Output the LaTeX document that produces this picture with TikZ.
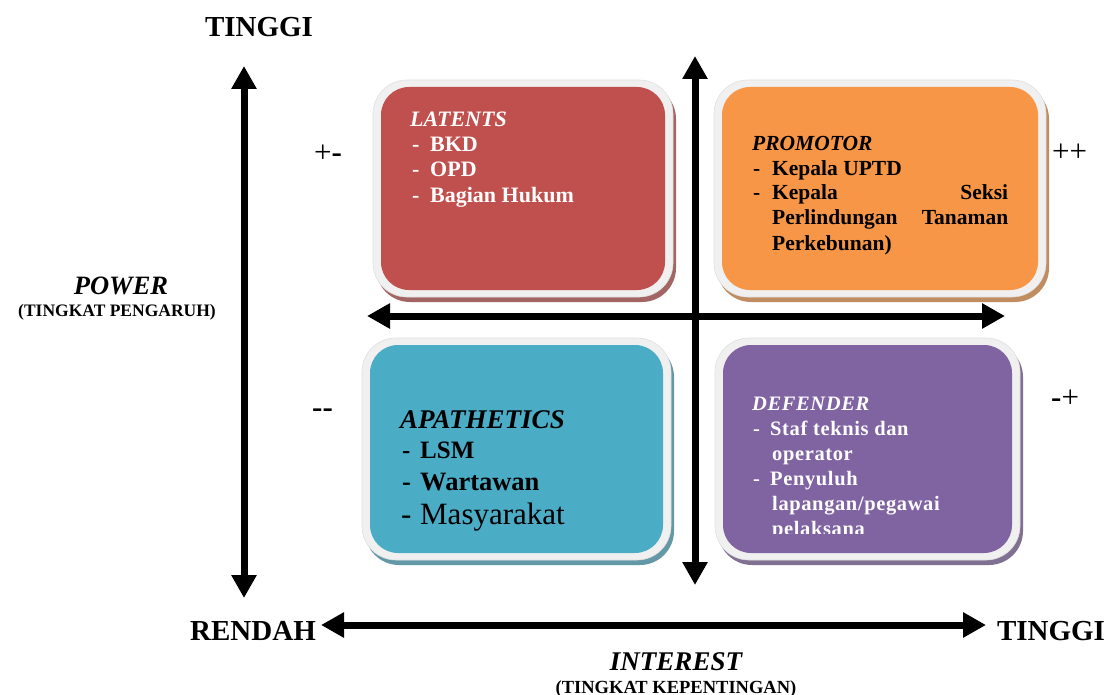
\documentclass[tikz,border=0pt]{standalone}
\usepackage{fontspec}
\setmainfont{Liberation Serif}
\usetikzlibrary{arrows.meta}

\definecolor{latentred}{HTML}{C0504D}
\definecolor{promoorange}{HTML}{F79646}
\definecolor{apathblue}{HTML}{4BACC6}
\definecolor{defpurple}{HTML}{8064A2}
\definecolor{framegray}{HTML}{F0F0F0}

\newcommand\fs[1]{\fontsize{#1}{#1}\selectfont}

\tikzset{
  axis/.style={line width=7pt,
    {Triangle[width=24pt,length=23pt]}-{Triangle[width=24pt,length=23pt]}},
  title/.style={inner sep=0pt, anchor=base, font=\fs{29}\bfseries},
  sub/.style={inner sep=0pt, anchor=base, font=\fs{18.5}\bfseries},
  txt/.style={inner sep=0pt, anchor=base west},
  sign/.style={inner sep=0pt, anchor=base west, font=\fs{31}},
}

% #1 name, #2..#5 inner box x1,y1,x2,y2, #6 fill colour
\newcommand\quadrant[6]{%
  \fill[#6!55!gray, rounded corners=34pt]
    ({#2-8+3},{#3-7+5}) rectangle ({#4+8+3},{#5+7+5});
  \fill[framegray, draw=gray!25, line width=0.6pt, rounded corners=34pt]
    ({#2-8},{#3-7}) rectangle ({#4+8},{#5+7});
  \node[fill=#6, rounded corners=28pt, inner sep=0pt,
        minimum width=#4pt-#2pt, minimum height=#5pt-#3pt]
    (#1) at ({(#2+#4)/2},{(#3+#5)/2}) {};
}

\begin{document}
\begin{tikzpicture}[x=1pt,y=-1pt]
\useasboundingbox (0,0) rectangle (1113,695);

% quadrant boxes
\quadrant{latents}{381}{87}{665}{290}{latentred}
\quadrant{promotor}{722}{87}{1038}{290}{promoorange}
\quadrant{apathetics}{370}{345}{663}{553}{apathblue}
\quadrant{defender}{723}{345}{1012}{553}{defpurple}

% axis end points
\coordinate (pTop) at (244,66);
\coordinate (pBot) at (244,598);
\coordinate (mTop) at (695,56);
\coordinate (mBot) at (695,585);
\coordinate (mLeft) at (367,316);
\coordinate (mRight) at (1005,316);
\coordinate (iLeft) at (321,625);
\coordinate (iRight) at (986,625);

\draw[axis] (pTop) -- (pBot);
\draw[axis] (mTop) -- (mBot);
\draw[axis] (mLeft) -- (mRight);
\draw[axis] (iLeft) -- (iRight);

% axis titles
\node[title] (tinggiTop) at (259,37) {TINGGI};
\node[title, font=\fs{26.5}\bfseries\itshape] (power) at (121,294) {POWER};
\node[sub, font=\fs{17.5}\bfseries] (powerSub) at (117,316) {(TINGKAT PENGARUH)};
\node[title] (rendah) at (253,640) {RENDAH};
\node[title] (tinggiRight) at (1051,640) {TINGGI};
\node[title, font=\fs{27}\bfseries\itshape] (interest) at (676,670) {INTEREST};
\node[sub] (interestSub) at (676,693) {(TINGKAT KEPENTINGAN)};

% quadrant signs
\node[sign] (sgnPM) at (314,163) {+\textbf{-}};
\node[sign] (sgnPP) at (1052,162) {++};
\node[sign] (sgnMM) at (312,417) {\textbf{-}\textbf{-}};
\node[sign] (sgnMP) at (1051,407) {\textbf{-}+};

% LATENTS
\begin{scope}[every node/.style={txt, text=white, font=\fs{22}\bfseries}]
\node (latT) at (410,127) {\itshape LATENTS};
\node (lat1) at (412,152) {\makebox[18pt][l]{-}BKD};
\node (lat2) at (412,177) {\makebox[18pt][l]{-}OPD};
\node (lat3) at (412,203) {\makebox[18pt][l]{-}Bagian Hukum};
\end{scope}

% PROMOTOR
\begin{scope}[every node/.style={txt, text=black, font=\fs{21.5}\bfseries}]
\node (proT) at (752,151) {\itshape PROMOTOR};
\node (pro1) at (753,176) {\makebox[19pt][l]{-}Kepala UPTD};
\node (pro2) at (753,200) {\makebox[19pt][l]{-}\hbox to 236pt{Kepala\hfill Seksi}};
\node (pro3) at (772,225) {\hbox to 236pt{Perlindungan\hfill Tanaman}};
\node (pro4) at (772,250) {Perkebunan)};
\end{scope}

% APATHETICS
\begin{scope}[every node/.style={txt, text=black}]
\node[font=\fs{27}\bfseries\itshape] (apaT) at (400,428) {APATHETICS};
\node[font=\fs{25}\bfseries] (apa1) at (402,458) {\makebox[18pt][l]{-}LSM};
\node[font=\fs{26.5}\bfseries] (apa2) at (402,490) {\makebox[18pt][l]{-}Wartawan};
\node[font=\fs{31}] (apa3) at (401,524) {\makebox[19pt][l]{-}Masyarakat};
\end{scope}

% DEFENDER (last line cut by the text frame)
\begin{scope}[every node/.style={txt, text=white,
    font=\fs{20.5}\bfseries\addfontfeature{LetterSpace=3}}]
\node (defT) at (752,410) {\itshape DEFENDER};
\node (def1) at (753,435) {\makebox[17pt][l]{-}Staf teknis dan};
\node (def2) at (772,460) {operator};
\node (def3) at (753,485) {\makebox[17pt][l]{-}Penyuluh};
\node (def4) at (772,510) {lapangan/pegawai};
\begin{scope}
\clip (740,515) rectangle (1000,533);
\node (def5) at (772,535) {pelaksana};
\end{scope}
\end{scope}

\end{tikzpicture}
\end{document}
